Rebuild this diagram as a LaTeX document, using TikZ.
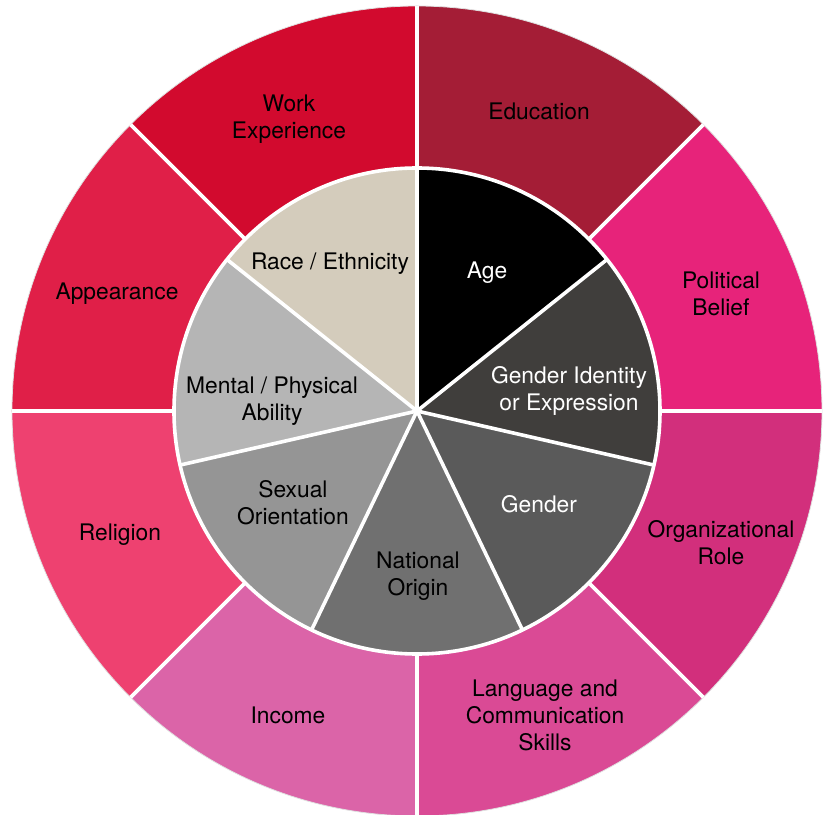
\documentclass[tikz,border=0pt]{standalone}
\usepackage{fontspec}
\setmainfont{TeX Gyre Heros}

% outer ring colours
\definecolor{educ}{HTML}{A41D36}
\definecolor{polit}{HTML}{E7237A}
\definecolor{orgrole}{HTML}{D22F7C}
\definecolor{lang}{HTML}{DA4A95}
\definecolor{income}{HTML}{DB64A8}
\definecolor{relig}{HTML}{EE4170}
\definecolor{appear}{HTML}{E01F48}
\definecolor{work}{HTML}{D20A2E}
% inner circle colours
\definecolor{age}{HTML}{000000}
\definecolor{genid}{HTML}{403E3C}
\definecolor{gender}{HTML}{5A5A5A}
\definecolor{natorig}{HTML}{707070}
\definecolor{sexor}{HTML}{959595}
\definecolor{ability}{HTML}{B5B5B5}
\definecolor{race}{HTML}{D4CCBC}

% sector: colour, start angle, end angle, radius
\newcommand{\wedgefill}[4]{%
  \fill[#1] (0,0) -- (#2:#4) arc[start angle=#2, end angle=#3, radius=#4] -- cycle;}

\begin{document}
\begin{tikzpicture}[x=0.5pt, y=0.5pt,
  every node/.style={font=\fontsize{11.4}{13.5}\selectfont, align=center},
  darklabel/.style={text=black},
  lightlabel/.style={text=white},
  gap/.style={white, line width=1.8pt}]

  \useasboundingbox (-417,-404) rectangle (409,411);

  % 1. outer ring (8 x 45 deg)
  \wedgefill{educ}{45}{90}{405}
  \wedgefill{polit}{0}{45}{405}
  \wedgefill{orgrole}{-45}{0}{405}
  \wedgefill{lang}{-90}{-45}{405}
  \wedgefill{income}{-135}{-90}{405}
  \wedgefill{relig}{-180}{-135}{405}
  \wedgefill{appear}{135}{180}{405}
  \wedgefill{work}{90}{135}{405}
  \draw[gray!25, line width=0.4pt] (0,0) circle[radius=405];

  % 2. inner circle (7 x 360/7 deg)
  \wedgefill{age}{38.571}{90}{243}
  \wedgefill{genid}{-12.857}{38.571}{243}
  \wedgefill{gender}{-64.286}{-12.857}{243}
  \wedgefill{natorig}{-115.714}{-64.286}{243}
  \wedgefill{sexor}{-167.143}{-115.714}{243}
  \wedgefill{ability}{141.429}{192.857}{243}
  \wedgefill{race}{90}{141.429}{243}

  % 3. white separators
  \foreach \a in {0,45,...,315}
    \draw[gap] (\a:243) -- (\a:405);
  \foreach \k in {0,...,6}
    \draw[gap] (0,0) -- ({90-\k*360/7}:243);
  \draw[gap] (0,0) circle[radius=243];

  % 4. outer labels
  \node[darklabel] (education) at (122,300) {Education};
  \node[darklabel] (political) at (304,117) {Political\\Belief};
  \node[darklabel] (organizational) at (304,-132) {Organizational\\Role};
  \node[darklabel] (language) at (128,-304) {Language and\\Communication\\Skills};
  \node[darklabel] (income) at (-129,-304) {Income};
  \node[darklabel] (religion) at (-297,-124) {Religion};
  \node[darklabel] (appearance) at (-300,117) {Appearance};
  \node[darklabel] (workexp) at (-128,292) {Work\\Experience};

  % 5. inner labels
  \node[lightlabel] (agelbl) at (70,138) {Age};
  \node[lightlabel] (genidlbl) at (152,20) {Gender Identity\\or Expression};
  \node[lightlabel] (genderlbl) at (122,-93) {Gender};
  \node[darklabel] (natlbl) at (1,-165) {National\\Origin};
  \node[darklabel] (sexlbl) at (-124,-92) {Sexual\\Orientation};
  \node[darklabel] (abilitylbl) at (-145,10) {Mental / Physical\\Ability};
  \node[darklabel] (racelbl) at (-87,147) {Race / Ethnicity};

\end{tikzpicture}
\end{document}
